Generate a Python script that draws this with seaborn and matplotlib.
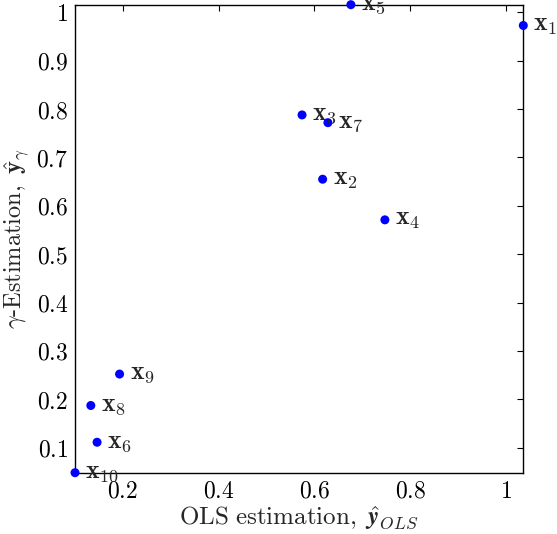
import matplotlib
matplotlib.use("Agg")
import matplotlib.pyplot as plt
import seaborn as sns
import pandas as pd
from matplotlib.ticker import FuncFormatter, FixedLocator

labels = ["1", "2", "3", "4", "5", "6", "7", "8", "9", "10"]
ols = [1.036, 0.617, 0.574, 0.747, 0.676, 0.146, 0.628, 0.133, 0.193, 0.100]
gamma = [0.973, 0.655, 0.788, 0.571, 1.016, 0.111, 0.772, 0.187, 0.252, 0.048]
xticks = [0.2, 0.4, 0.6, 0.8, 1.0]
yticks = [0.1, 0.2, 0.3, 0.4, 0.5, 0.6, 0.7, 0.8, 0.9, 1.0]

sns.set_theme(style="white")
plt.rcParams["mathtext.fontset"] = "cm"
plt.rcParams["font.family"] = ["DejaVu Serif"]

df = pd.DataFrame({"ols": ols, "gamma": gamma, "label": labels})

fig = plt.figure(figsize=(5.57, 5.34), dpi=100)
ax = fig.add_axes([0.1347, 0.1148, 0.9395 - 0.1347, 0.9912 - 0.1148])
sns.scatterplot(data=df, x="ols", y="gamma", ax=ax, color=(0, 0, 1), s=42,
                edgecolor="none", clip_on=False, zorder=3)

for _, r in df.iterrows():
    ax.annotate(r"$\mathbf{x}_{%s}$" % r["label"], (r["ols"], r["gamma"]),
                xytext=(7.2, -3.6), textcoords="offset points",
                ha="left", va="baseline", fontsize=18.5, annotation_clip=False)

ax.set_xlim(min(ols), max(ols))
ax.set_ylim(min(gamma), max(gamma))
ax.xaxis.set_major_locator(FixedLocator(xticks))
ax.yaxis.set_major_locator(FixedLocator(yticks))
fmt = FuncFormatter(lambda v, p: "$%g$" % v)
ax.xaxis.set_major_formatter(fmt)
ax.yaxis.set_major_formatter(fmt)
ax.tick_params(direction="in", length=4, width=0.8, top=True, right=True,
               labelsize=17, pad=5, colors="black")
for s in ax.spines.values():
    s.set_color("black")
    s.set_linewidth(1.0)

ax.set_xlabel(r"$\mathrm{OLS\ estimation,}\ \hat{\mathbfit{y}}_{OLS}$", fontsize=18, labelpad=1)
ax.set_ylabel(r"$\gamma\mathrm{\text{-}Estimation,}\ \hat{\mathbf{y}}_{\gamma}$", fontsize=17.5, labelpad=3)

fig.savefig("out.png", dpi=100)
